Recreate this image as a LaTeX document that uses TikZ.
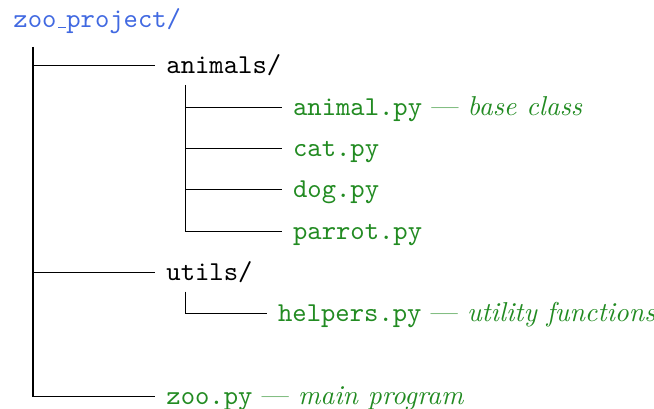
\documentclass[tikz,border=0pt]{standalone}
\usepackage{xcolor}
\usetikzlibrary{calc}
\definecolor{rootblue}{RGB}{65,105,225}
\definecolor{filegreen}{RGB}{34,139,34}
\newcommand{\note}[1]{{\rmfamily\ --- \itshape #1}}
\newcommand{\usc}{\leavevmode\kern.06em\vbox{\hrule width.3em}}
\tikzset{
  treenode/.style = {anchor=west, inner xsep=4pt, inner ysep=0pt,
    text height=8pt, text depth=2.2pt, font=\ttfamily},
  tree_r/.style = {treenode, text=rootblue},% racine
  tree_d/.style = {treenode, text=black},% dossier
  tree_f/.style = {treenode, text=filegreen},% fichier
  tree_e/.style = {draw=black, line width=0.4pt}% branche
}
\begin{document}
\begin{tikzpicture}
\useasboundingbox (0,0) rectangle (8.417,-5.251);

\node[tree_r] (root) at (0.026,-0.257) {zoo\usc project/};
\node[tree_d] (animals) at (1.995,-0.846) {animals/};
\node[tree_f] (f1) at (3.625,-1.378) {animal.py\note{base class}};
\node[tree_f] (f2) at (3.625,-1.910) {cat.py};
\node[tree_f] (f3) at (3.625,-2.442) {dog.py};
\node[tree_f] (f4) at (3.625,-2.974) {parrot.py};
\node[tree_d] (utils) at (1.995,-3.506) {utils/};
\node[tree_f] (f5) at (3.432,-4.038) {helpers.py\note{utility functions}};
\node[tree_f] (zoo) at (1.995,-5.102) {zoo.py\note{main program}};

% tronc principal
\coordinate (t0) at ($(root.south west)+(0.399,-0.16)$);
\draw[tree_e] (t0) |- (zoo.west);
\draw[tree_e] (t0 |- animals.west) -- (animals.west);
\draw[tree_e] (t0 |- utils.west) -- (utils.west);
% animals/
\coordinate (t1) at ($(animals.south west)+(0.395,-0.06)$);
\draw[tree_e] (t1) |- (f4.west);
\foreach \f in {f1,f2,f3}
  \draw[tree_e] (t1 |- \f.west) -- (\f.west);
% utils/
\coordinate (t2) at ($(utils.south west)+(0.395,-0.06)$);
\draw[tree_e] (t2) |- (f5.west);
\end{tikzpicture}
\end{document}
